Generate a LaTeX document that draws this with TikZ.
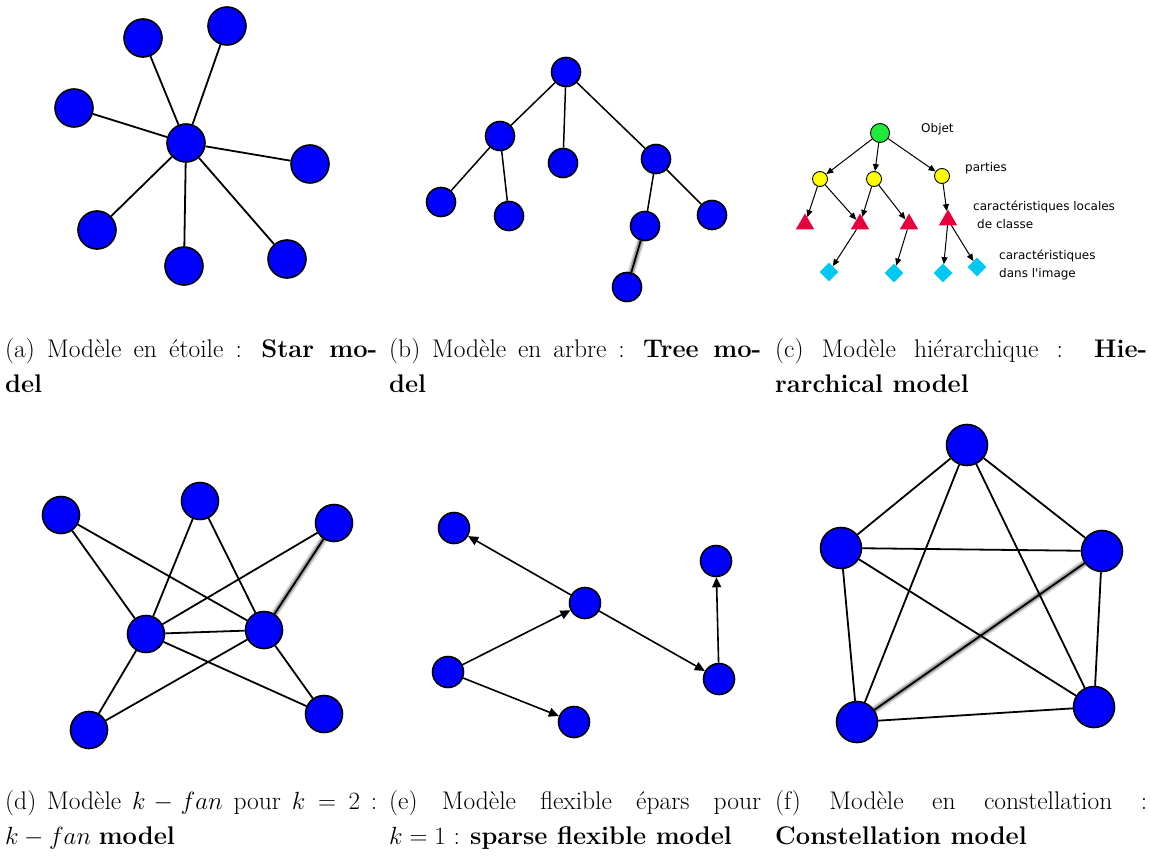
\documentclass[tikz,border=0pt]{standalone}
\usepackage{fontspec}
\newfontfamily\labelfont{DejaVu Sans}
\usetikzlibrary{arrows.meta,shapes.geometric,backgrounds}

\definecolor{nodeblue}{RGB}{0,0,255}
\definecolor{rootgreen}{RGB}{30,235,60}
\definecolor{partyellow}{RGB}{255,255,0}
\definecolor{featred}{RGB}{232,0,60}
\definecolor{imgcyan}{RGB}{0,200,240}

\begin{document}
\begin{tikzpicture}[x=1pt,y=-1pt,
  vtx/.style={circle,draw=black,line width=1.6pt,fill=nodeblue,inner sep=0pt,minimum size=#1},
  vtx/.default=38pt,
  link/.style={line width=1.8pt,draw=black},
  thinlink/.style={line width=1.5pt,draw=black},
  glowwide/.style={line width=8pt,draw=black!12},
  glowmid/.style={line width=5pt,draw=black!35},
  arc/.style={line width=1.6pt,draw=black,-{Triangle[length=10pt,width=9pt]}},
  smallarc/.style={line width=1pt,draw=black,-{Triangle[length=7pt,width=6pt]}},
  objet/.style={circle,draw=black,line width=0.9pt,fill=rootgreen,inner sep=0pt,minimum size=19pt},
  partie/.style={circle,draw=black,line width=0.9pt,fill=partyellow,inner sep=0pt,minimum size=15pt},
  locfeat/.style={regular polygon,regular polygon sides=3,fill=featred,inner sep=0pt,minimum size=21pt},
  imgfeat/.style={diamond,aspect=1,fill=imgcyan,inner sep=0pt,minimum size=19pt},
  lbl/.style={anchor=west,inner sep=0pt,font=\labelfont\fontsize{12}{14}\selectfont},
  caption/.style={anchor=north west,inner sep=0pt,text width=372pt,align=justify,
    font=\fontsize{25.5}{35}\selectfont},
]
\begin{pgfonlayer}{background}
  \fill[white] (0,0) rectangle (1150,856);
\end{pgfonlayer}
\useasboundingbox (0,0) rectangle (1150,856);

% ---------- (a) star model ----------
\node[vtx] (a0) at (186,143) {};
\node[vtx] (a1) at (143,38) {};
\node[vtx] (a2) at (227,26) {};
\node[vtx] (a3) at (74,108) {};
\node[vtx] (a4) at (310,164) {};
\node[vtx] (a5) at (97,230) {};
\node[vtx] (a6) at (184,266) {};
\node[vtx] (a7) at (287,259) {};
\foreach \i in {1,...,7} \draw[link] (a0) -- (a\i);

% ---------- (b) tree model ----------
\node[vtx=29pt] (b0) at (566,72) {};
\node[vtx=29pt] (b1) at (500,136) {};
\node[vtx=29pt] (b2) at (563,163) {};
\node[vtx=29pt] (b3) at (656,159) {};
\node[vtx=29pt] (b4) at (441,202) {};
\node[vtx=29pt] (b5) at (509,216) {};
\node[vtx=29pt] (b6) at (645,226) {};
\node[vtx=29pt] (b7) at (712,215) {};
\node[vtx=29pt] (b8) at (627,287) {};
\draw[thinlink] (b0) -- (b1);
\draw[thinlink] (b0) -- (b2);
\draw[thinlink] (b0) -- (b3);
\draw[thinlink] (b1) -- (b4);
\draw[thinlink] (b1) -- (b5);
\draw[thinlink] (b3) -- (b6);
\draw[thinlink] (b3) -- (b7);
\begin{pgfonlayer}{background}
  \draw[glowwide] (b6.center) -- (b8.center);
  \draw[glowmid] (b6.center) -- (b8.center);
\end{pgfonlayer}
\draw[link] (b6) -- (b8);

% ---------- (c) hierarchical model ----------
\node[objet] (c0) at (880,133) {};
\node[partie] (c1) at (820,179) {};
\node[partie] (c2) at (874,179) {};
\node[partie] (c3) at (942,176) {};
\node[locfeat] (t1) at (805,224) {};
\node[locfeat] (t2) at (860,224) {};
\node[locfeat] (t3) at (909,224) {};
\node[locfeat] (t4) at (948,220) {};
\node[imgfeat] (q1) at (829,272) {};
\node[imgfeat] (q2) at (894,273) {};
\node[imgfeat] (q3) at (943,273) {};
\node[imgfeat] (q4) at (977,267) {};
\draw[smallarc] (c0) -- (c1);
\draw[smallarc] (c0) -- (c2);
\draw[smallarc] (c0) -- (c3);
\draw[smallarc] (c1) -- (t1);
\draw[smallarc] (c1) -- (t2);
\draw[smallarc] (c2) -- (t2);
\draw[smallarc] (c2) -- (t3);
\draw[smallarc] (c3) -- (t4);
\draw[smallarc] (t2) -- (q1);
\draw[smallarc] (t3) -- (q2);
\draw[smallarc] (t4) -- (q3);
\draw[smallarc] (t4) -- (q4);
\node[lbl] (l1) at (921,129) {Objet};
\node[lbl] (l2) at (965,168) {parties};
\node[lbl] (l3) at (973,207) {caractéristiques locales};
\node[lbl] (l4) at (977,224) {de classe};
\node[lbl] (l5) at (999,256) {caractéristiques};
\node[lbl] (l6) at (999,274) {dans l'image};

% ---------- (d) k-fan model ----------
\node[vtx=37pt] (k1) at (61,515) {};
\node[vtx=37pt] (k2) at (200,501) {};
\node[vtx=37pt] (k3) at (334,523) {};
\node[vtx=37pt] (kA) at (146,634) {};
\node[vtx=37pt] (kB) at (264,630) {};
\node[vtx=37pt] (k4) at (89,730) {};
\node[vtx=37pt] (k5) at (324,714) {};
\draw[link] (kA) -- (kB);
\foreach \i in {1,2,4,5} {
  \draw[link] (k\i) -- (kA);
  \draw[link] (k\i) -- (kB);
}
\draw[link] (k3) -- (kA);
\begin{pgfonlayer}{background}
  \draw[glowwide] (k3.center) -- (kB.center);
  \draw[glowmid] (k3.center) -- (kB.center);
\end{pgfonlayer}
\draw[link] (k3) -- (kB);

% ---------- (e) sparse flexible model ----------
\node[vtx=31pt] (e1) at (454,528) {};
\node[vtx=31pt] (e2) at (585,603) {};
\node[vtx=31pt] (e3) at (716,561) {};
\node[vtx=31pt] (e4) at (448,672) {};
\node[vtx=31pt] (e5) at (574,722) {};
\node[vtx=31pt] (e6) at (719,679) {};
\draw[arc] (e2) -- (e1);
\draw[arc] (e4) -- (e2);
\draw[arc] (e4) -- (e5);
\draw[arc] (e2) -- (e6);
\draw[arc] (e6) -- (e3);

% ---------- (f) constellation model ----------
\node[vtx=41pt] (f1) at (967,445) {};
\node[vtx=41pt] (f2) at (841,548) {};
\node[vtx=41pt] (f3) at (1102,551) {};
\node[vtx=41pt] (f4) at (857,722) {};
\node[vtx=41pt] (f5) at (1094,707) {};
\draw[link] (f1) -- (f2);
\draw[link] (f1) -- (f3);
\draw[link] (f1) -- (f4);
\draw[link] (f1) -- (f5);
\draw[link] (f2) -- (f3);
\draw[link] (f2) -- (f4);
\draw[link] (f2) -- (f5);
\draw[link] (f4) -- (f5);
\draw[link] (f3) -- (f5);
\begin{pgfonlayer}{background}
  \draw[glowwide] (f4.center) -- (f3.center);
  \draw[glowmid] (f4.center) -- (f3.center);
\end{pgfonlayer}
\draw[link] (f4) -- (f3);

% ---------- captions ----------
\node[caption] (capa) at (5,338) {(a) Modèle en étoile : \textbf{Star mo-}\linebreak\textbf{del}};
\node[caption] (capb) at (389,338) {(b) Modèle en arbre : \textbf{Tree mo-}\linebreak\textbf{del}};
\node[caption] (capc) at (775,338) {(c) Modèle hiérarchique : \textbf{Hie-}\linebreak\textbf{rarchical model}};
\node[caption] (capd) at (5,790) {(d) Modèle $k-fan$ pour $k=2$ :\linebreak $k-fan$ \textbf{model}};
\node[caption] (cape) at (389,790) {(e) Modèle flexible épars pour\linebreak $k=1$ : \textbf{sparse flexible model}};
\node[caption] (capf) at (775,790) {(f) Modèle en constellation :\linebreak \textbf{Constellation model}};
\end{tikzpicture}
\end{document}
